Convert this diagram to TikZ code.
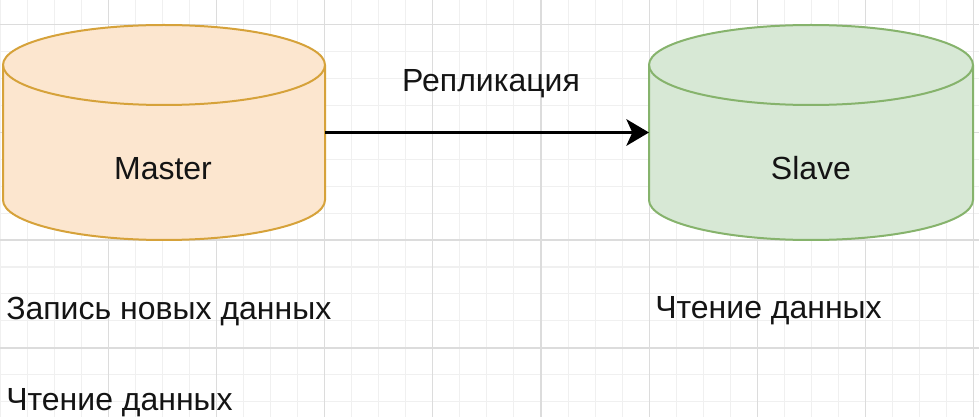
\documentclass[tikz,border=0pt]{standalone}
\usepackage{fontspec}
\setmainfont{Liberation Sans}
\usetikzlibrary{arrows.meta}
\definecolor{gridmajor}{HTML}{DCDCDC}
\definecolor{gridminor}{HTML}{F0F0F0}
\definecolor{orfill}{HTML}{FCE6CF}
\definecolor{ordraw}{HTML}{D6A23A}
\definecolor{grfill}{HTML}{D7E8D5}
\definecolor{grdraw}{HTML}{86B36C}
\definecolor{txtcol}{HTML}{141414}
\begin{document}
\begin{tikzpicture}[x=0.75pt,y=-0.75pt,
  txt/.style={inner sep=0pt, font=\fontsize{24}{28}\selectfont, text=txtcol},
  minorline/.style={gridminor, line width=0.8pt},
  majorline/.style={gridmajor, line width=0.9pt},
  masterbody/.style={fill=orfill, draw=ordraw, line width=1.5pt},
  slavebody/.style={fill=grfill, draw=grdraw, line width=1.5pt},
  holder/.style={inner sep=0pt, outer sep=0pt},
  conn/.style={line width=1.6pt, -{Stealth[length=17pt, width=20pt, inset=4.5pt]}}]
\useasboundingbox (0,0) rectangle (979,417);
\fill[white] (0,0) rectangle (979,417);
% grid
\foreach \i in {0,...,36} \draw[minorline] ({27.05*\i},0) -- ({27.05*\i},417);
\foreach \j in {0,...,15} \draw[minorline] (0,{-2.5+26.95*\j}) -- (979,{-2.5+26.95*\j});
\foreach \i in {1,...,9} \draw[majorline] ({108.2*\i},0) -- ({108.2*\i},417);
\foreach \j in {0,...,3} \draw[majorline] (0,{24.5+107.8*\j}) -- (979,{24.5+107.8*\j});
% Master cylinder
\draw[masterbody] (3,65) -- (3,200) arc[start angle=180, end angle=0, x radius=161, y radius=40]
  -- (325,65) arc[start angle=0, end angle=-180, x radius=161, y radius=40] -- cycle;
\draw[masterbody, fill=none] (3,65) arc[start angle=180, end angle=0, x radius=161, y radius=40];
\node[holder, minimum width=241.5pt, minimum height=161.25pt] (master) at (164,132.5) {};
% Slave cylinder
\draw[slavebody] (649,65) -- (649,200) arc[start angle=180, end angle=0, x radius=162, y radius=40]
  -- (973,65) arc[start angle=0, end angle=-180, x radius=162, y radius=40] -- cycle;
\draw[slavebody, fill=none] (649,65) arc[start angle=180, end angle=0, x radius=162, y radius=40];
\node[holder, minimum width=243pt, minimum height=161.25pt] (slave) at (811,132.5) {};
% labels
\node[txt, anchor=base] (mlabel) at (163,180) {Master};
\node[txt, anchor=base] (slabel) at (811,180) {Slave};
\node[txt, anchor=base] (replabel) at (491,92) {Репликация};
\node[txt, anchor=base west] (mwrite) at (6,320) {Запись новых данных};
\node[txt, anchor=base west] (mread) at (6,410) {Чтение данных};
\node[txt, anchor=base west] (sread) at (655,319) {Чтение данных};
% connector
\draw[conn] (master.east) -- (slave.west);
\end{tikzpicture}
\end{document}
